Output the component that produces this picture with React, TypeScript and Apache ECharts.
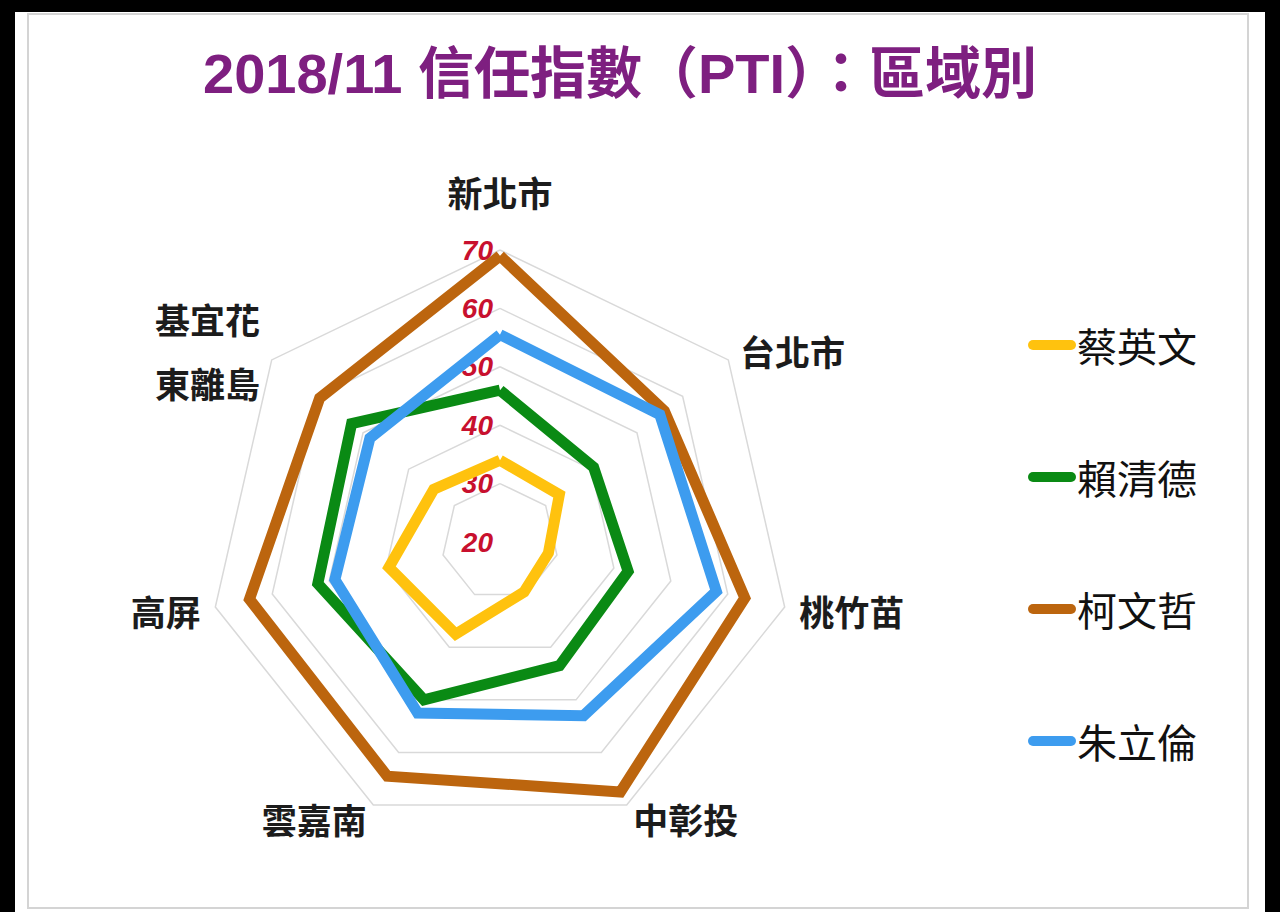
import React, { useEffect, useRef } from "react";
import * as echarts from "echarts";

// ---- data ----
const TITLE = "2018/11 信任指數（PTI）：區域別";
// clockwise from the top
const regions = ["新北市", "台北市", "桃竹苗", "中彰投", "雲嘉南", "高屏", "基宜花\n東離島"];
const candidates = ["蔡英文", "賴清德", "柯文哲", "朱立倫"];
const tsaiValues = [34, 33, 28.5, 29.5, 37.5, 39.5, 34.5];
const laiValues = [46, 40.5, 42.5, 43.5, 50, 52, 52.5];
const koValues = [69, 56, 63, 67.5, 64.5, 64, 59.5];
const chuValues = [55.5, 55, 58, 53, 52.5, 49, 48.5];
const candidateColors = ["#FFC20E", "#0A8A14", "#BC650E", "#3D9CEF"];
const axisMin = 20;
const axisMax = 70;
const axisSplit = 5;

const allValues = [tsaiValues, laiValues, koValues, chuValues];

export default function App() {
  const ref = useRef<HTMLDivElement>(null);

  useEffect(() => {
    if (!ref.current) return;
    const chart = echarts.init(ref.current, undefined, { renderer: "svg" });

    // ECharts radar lays indicators out counter-clockwise; reorder so the picture runs clockwise
    const order = [0, ...regions.slice(1).map((_, i) => regions.length - 1 - i)];

    const indicator = order.map((idx) => {
      const base: any = { name: regions[idx], min: axisMin, max: axisMax };
      if (idx === 0) {
        base.nameGap = 27;
        base.axisLabel = {
          show: true,
          color: "#C8102E",
          fontSize: 28,
          fontWeight: "bold",
          fontStyle: "italic",
          fontFamily: "'Liberation Sans Narrow', 'Liberation Sans', Arial, sans-serif",
          margin: 7,
        };
      }
      return base;
    });

    const option: any = {
      animation: false,
      backgroundColor: "transparent",
      graphic: [
        {
          type: "rect",
          shape: { x: 15, y: 12, width: 1250, height: 900 },
          style: { fill: "#ffffff" },
          z: -10,
        },
        {
          type: "rect",
          shape: { x: 28, y: 14, width: 1220, height: 894 },
          style: { fill: "none", stroke: "#d4d4d4", lineWidth: 2 },
          z: -9,
        },
        {
          type: "text",
          x: 620,
          y: 73,
          style: {
            text: TITLE,
            fill: "#7E1F80",
            font: "bold 56px 'Liberation Sans', Arial, 'Noto Sans CJK TC', sans-serif",
            align: "center",
            verticalAlign: "middle",
          },
        },
      ],
      legend: {
        orient: "vertical",
        left: 1023,
        top: 320,
        itemWidth: 48,
        itemHeight: 10,
        itemGap: 92,
        icon: "path://M5,0L43,0A5,5,0,0,1,43,10L5,10A5,5,0,0,1,5,0Z",
        textStyle: {
          fontSize: 40,
          color: "#111111",
          fontFamily: "'Noto Sans CJK TC', sans-serif",
          padding: [0, 0, 0, -4],
        },
        data: candidates,
      },
      radar: {
        center: [500, 542],
        radius: 292,
        startAngle: 90,
        shape: "polygon",
        splitNumber: axisSplit,
        nameGap: 15,
        axisName: {
          color: "#1c1c1c",
          fontSize: 35,
          fontWeight: "bold",
          fontFamily: "'Noto Sans CJK TC', sans-serif",
          lineHeight: 64,
        },
        axisLine: { show: false },
        axisTick: { show: false },
        axisLabel: { show: false },
        splitLine: { lineStyle: { color: "#d9d9d9", width: 1.5 } },
        splitArea: { show: false },
        indicator,
      },
      series: [
        {
          type: "radar",
          symbol: "none",
          data: candidates.map((name, i) => ({
            name,
            value: order.map((idx) => allValues[i][idx]),
            itemStyle: { color: candidateColors[i] },
            lineStyle: { color: candidateColors[i], width: 11, join: "miter" },
          })),
        },
      ],
    };

    chart.setOption(option);
    return () => chart.dispose();
  }, []);

  return (
    <div
      style={{
        position: "fixed",
        left: 0,
        top: 0,
        width: 1280,
        height: 912,
        background: "#000000",
      }}
    >
      <div ref={ref} style={{ width: 1280, height: 912 }} />
    </div>
  );
}
